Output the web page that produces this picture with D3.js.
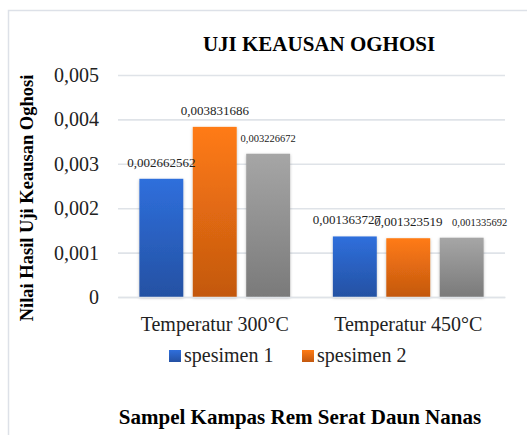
<!DOCTYPE html>
<html>
<head>
<meta charset="utf-8">
<script src="https://cdnjs.cloudflare.com/ajax/libs/d3/7.8.5/d3.min.js"></script>
<style>
  body { margin: 0; background: #fff; }
  text { font-family: 'Liberation Serif', 'Times New Roman', serif; }
</style>
</head>
<body>
<div id="chart"></div>
<script>
// Data
const categories = ['Temperatur 300°C', 'Temperatur 450°C']
const seriesNames = ['spesimen 1', 'spesimen 2', 'spesimen 3']
const spesimen1 = [0.002662562, 0.001363727]
const spesimen2 = [0.003831686, 0.001323519]
const spesimen3 = [0.003226672, 0.001335692]
const yTicks = [0, 0.001, 0.002, 0.003, 0.004, 0.005]
const legendNames = ['spesimen 1', 'spesimen 2']

// Our canvas
const width = 527,
  height = 435

const svg = d3.select('#chart')
  .append('svg')
  .attr('width', width)
  .attr('height', height)

const colors = {
  'spesimen 1': ['#2f6fdc', '#2451a3'],
  'spesimen 2': ['#ff7b15', '#c3580f'],
  'spesimen 3': ['#a6a6a6', '#7a7a7a']
}

// gradients + shadow
const defs = svg.append('defs')
seriesNames.forEach((s, i) => {
  let g = defs.append('linearGradient')
    .attr('id', 'grad' + i)
    .attr('x1', 0).attr('y1', 0).attr('x2', 0).attr('y2', 1)
  g.append('stop').attr('offset', '0%').attr('stop-color', colors[s][0])
  g.append('stop').attr('offset', '100%').attr('stop-color', colors[s][1])
})
defs.append('filter')
  .attr('id', 'shadow')
  .attr('x', '-20%').attr('y', '-10%').attr('width', '140%').attr('height', '120%')
  .append('feDropShadow')
  .attr('dx', 0).attr('dy', 1).attr('stdDeviation', 1.5)
  .attr('flood-color', '#000').attr('flood-opacity', 0.25)

// frame
svg.append('rect')
  .attr('x', 8.5).attr('y', 10.5)
  .attr('width', 540).attr('height', 440)
  .attr('fill', 'none')
  .attr('stroke', '#dde1e8')
  .attr('stroke-width', 1.5)

// scales
const x0 = d3.scaleBand()
  .domain(categories)
  .range([118, 505])

const x1 = d3.scaleBand()
  .domain(seriesNames)
  .range([0, x0.bandwidth()])
  .paddingInner(0.178)
  .paddingOuter(0.4)

const y = d3.scaleLinear()
  .domain([0, 0.005])
  .range([297, 75])

const fmt = v => String(v).replace('.', ',')

// gridlines + tick labels
const yAxis = d3.axisLeft(y)
  .tickValues(yTicks)
  .tickSize(-(505 - 118))
  .tickPadding(19)
  .tickFormat(d => d === 0 ? '0' : d3.format('.3f')(d).replace('.', ','))

svg.append('g')
  .attr('class', 'y axis')
  .attr('transform', 'translate(118,0)')
  .call(yAxis)
  .call(g => g.select('.domain').remove())
  .call(g => g.selectAll('.tick line').attr('stroke', '#dfe3e8').attr('stroke-width', 1.6))
  .call(g => g.selectAll('.tick text')
    .attr('font-size', 20)
    .attr('fill', '#222'))

// bars
const data = categories.map((c, i) => ({
  cat: c,
  values: [spesimen1[i], spesimen2[i], spesimen3[i]]
}))

const groups = svg.selectAll('.grp')
  .data(data)
  .enter()
  .append('g')
  .attr('class', 'grp')
  .attr('transform', d => 'translate(' + x0(d.cat) + ',0)')

groups.selectAll('rect')
  .data(d => d.values.map((v, j) => ({ s: seriesNames[j], v: v, j: j })))
  .enter()
  .append('rect')
  .attr('x', d => x1(d.s))
  .attr('y', d => y(d.v))
  .attr('width', x1.bandwidth())
  .attr('height', d => y(0) - y(d.v))
  .attr('fill', d => 'url(#grad' + d.j + ')')
  .attr('filter', 'url(#shadow)')

// data labels (second group spread apart, short bars crowd them)
groups.selectAll('.lbl')
  .data((d, i) => d.values.map((v, j) => ({ s: seriesNames[j], v: v, j: j, g: i })))
  .enter()
  .append('text')
  .attr('class', 'lbl')
  .attr('x', d => x1(d.s) + x1.bandwidth() / 2 + (d.g === 1 ? (d.j - 1) * 8 + (d.j === 2 ? 10 : 0) : 0))
  .attr('y', d => y(d.v) - 12)
  .attr('text-anchor', 'middle')
  .attr('font-size', d => d.j === 2 ? 10.5 : 13)
  .attr('fill', '#222')
  .text(d => fmt(d.v))

// category labels
const xAxis = d3.axisBottom(x0).tickSize(0).tickPadding(20)
svg.append('g')
  .attr('class', 'x axis')
  .attr('transform', 'translate(0,297)')
  .call(xAxis)
  .call(g => g.select('.domain').attr('stroke', '#dfe3e8').attr('stroke-width', 1.6))
  .call(g => g.selectAll('.tick text')
    .attr('font-size', 20)
    .attr('fill', '#222'))

// legend
const legendX = d3.scalePoint()
  .domain(legendNames)
  .range([169, 302])

const legend = svg.selectAll('.leg')
  .data(legendNames)
  .enter()
  .append('g')
  .attr('class', 'leg')
  .attr('transform', d => 'translate(' + legendX(d) + ',350)')

legend.append('rect')
  .attr('width', 12).attr('height', 12)
  .attr('fill', (d, i) => 'url(#grad' + i + ')')

legend.append('text')
  .attr('x', 15)
  .attr('y', 12)
  .attr('font-size', 20)
  .attr('fill', '#222')
  .text(d => d)

// titles
svg.append('text')
  .attr('x', 319)
  .attr('y', 51)
  .attr('text-anchor', 'middle')
  .attr('font-size', 21)
  .attr('font-weight', 'bold')
  .text('UJI KEAUSAN OGHOSI')

svg.append('text')
  .attr('transform', 'translate(33,198) rotate(-90)')
  .attr('text-anchor', 'middle')
  .attr('font-size', 18.5)
  .attr('font-weight', 'bold')
  .text('Nilai Hasil Uji Keausan Oghosi')

svg.append('text')
  .attr('x', 300)
  .attr('y', 424)
  .attr('text-anchor', 'middle')
  .attr('font-size', 21)
  .attr('font-weight', 'bold')
  .text('Sampel Kampas Rem Serat Daun Nanas')
</script>
</body>
</html>
